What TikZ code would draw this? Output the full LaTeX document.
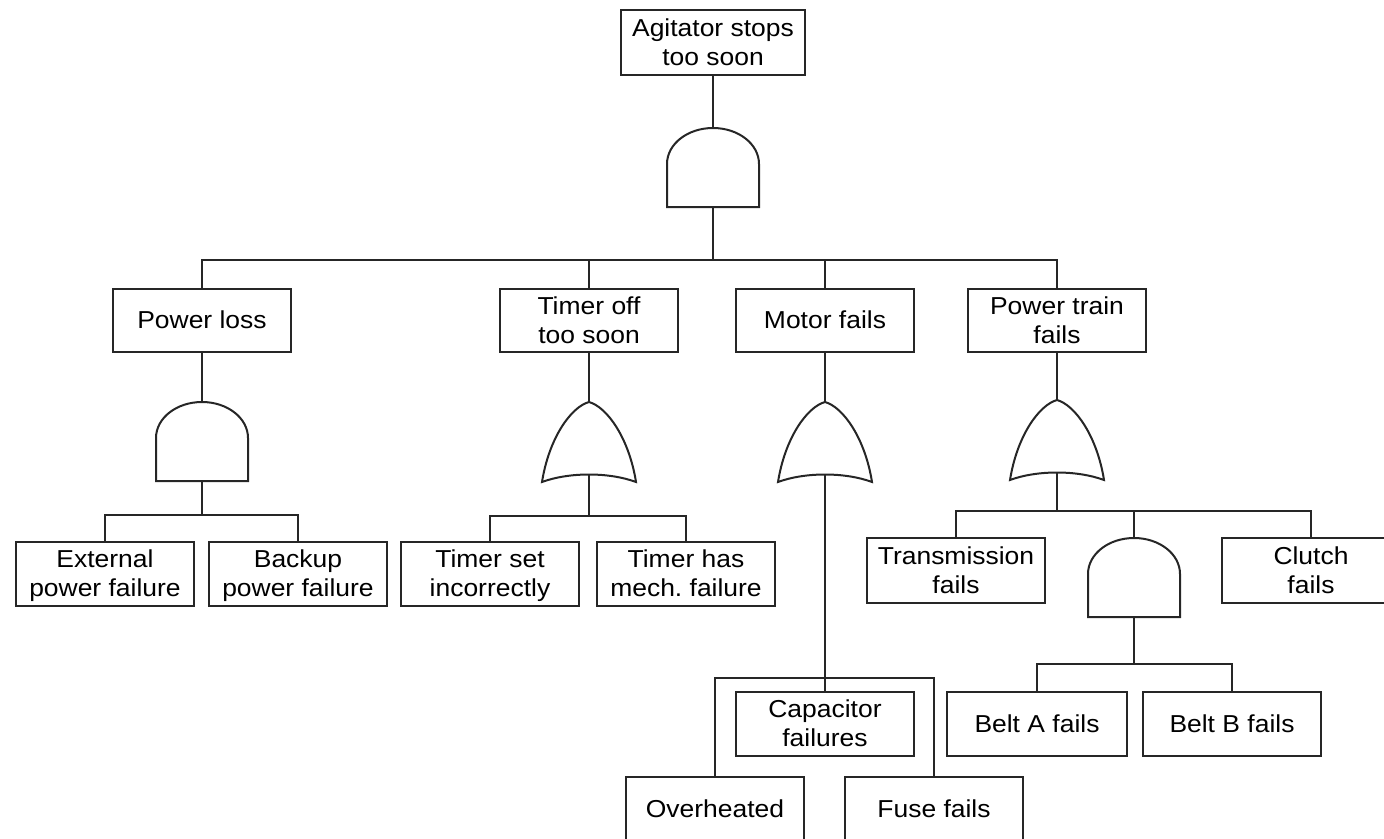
\documentclass[tikz,border=0pt]{standalone}
\usepackage{fontspec}
\setmainfont{Liberation Sans}[FakeStretch=1.08]
\usetikzlibrary{calc}

% fixed line height so that all labels sit the same way in their boxes
\newcommand{\labelstrut}{\rule[-6.5pt]{0pt}{29pt}}
% a two-line label with struts on both lines
\newcommand{\twolines}[2]{\labelstrut#1\\#2\labelstrut}

\tikzset{
  link/.style={line width=2pt, draw=black!85},
  gate/.style={line width=2pt, draw=black!85, fill=white},
  box/.style={draw=black!85, line width=2pt, fill=white,
    minimum width=178pt, minimum height=63pt, inner sep=0pt,
    align=center, font=\fontsize{24.5}{29}\selectfont},
  box1/.style={box, execute at begin node=\labelstrut},
  % AND gate: flat base, half-elliptic top; input at the top, output at the base
  andgate/.pic={
    \draw[gate] (-46,79) -- (-46,36)
      .. controls (-46,16) and (-25.4,0) .. (0,0)
      .. controls (25.4,0) and (46,16) .. (46,36) -- (46,79) -- cycle;
    \coordinate (-in) at (0,0);
    \coordinate (-out) at (0,79);
  },
  % OR gate: rounded arch with a concave base
  orgate/.pic={
    \draw[gate] (0,0) .. controls (18,5) and (40,36) .. (47,80)
      .. controls (20,70) and (-20,70) .. (-47,80)
      .. controls (-40,36) and (-18,5) .. (0,0) -- cycle;
    \coordinate (-in) at (0,0);
    \coordinate (-out) at (0,72.5);
  },
}

\begin{document}
\begin{tikzpicture}[x=1pt, y=-1pt]
\useasboundingbox (0,0) rectangle (1384,838);
\clip (0,0) rectangle (1384,838);

% top event
\node[box, minimum width=184pt, minimum height=65pt] (top) at (713,42.5) {\twolines{Agitator stops}{too soon}};
\pic (g0) at (713,128) {andgate};
\coordinate (b0) at (713,260);
\draw[link] (top.south) -- (g0-in);
\draw[link] (g0-out) -- (b0);

% second level
\node[box1] (pl) at (202,320.5) {Power loss};
\node[box] (to) at (589,320.5) {\twolines{Timer off}{too soon}};
\node[box1] (mf) at (825,320.5) {Motor fails};
\node[box] (pt) at (1057,320.5) {\twolines{Power train}{fails}};
\draw[link] (pl.north) |- (b0) -| (pt.north);
\draw[link] (to.north) -- (to.north |- b0);
\draw[link] (mf.north) -- (mf.north |- b0);

% power loss branch
\pic (g1) at (202,402) {andgate};
\coordinate (b1) at (202,515);
\draw[link] (pl.south) -- (g1-in);
\draw[link] (g1-out) -- (b1);
\node[box, minimum height=64pt] (ext) at (105,574) {\twolines{External}{power failure}};
\node[box, minimum height=64pt] (bak) at (298,574) {\twolines{Backup}{power failure}};
\draw[link] (ext.north) |- (b1) -| (bak.north);

% timer branch
\pic (g2) at (589,402) {orgate};
\coordinate (b2) at (589,516);
\draw[link] (to.south) -- (g2-in);
\draw[link] (g2-out) -- (b2);
\node[box, minimum height=64pt] (tsi) at (490,574) {\twolines{Timer set}{incorrectly}};
\node[box, minimum height=64pt] (thm) at (686,574) {\twolines{Timer has}{mech.\ failure}};
\draw[link] (tsi.north) |- (b2) -| (thm.north);

% motor branch
\pic (g3) at (825,402) {orgate};
\draw[link] (mf.south) -- (g3-in);
\node[box, minimum height=64pt] (cap) at (825,724) {\twolines{Capacitor}{failures}};
\node[box1, minimum height=64pt] (ovh) at (715,809) {Overheated};
\node[box1, minimum height=64pt] (fus) at (934,809) {Fuse fails};
\draw[link] (g3-out) -- (cap.north);
\coordinate (b3) at (825,678);
\draw[link] (ovh.north) |- (b3) -| (fus.north);

% power train branch
\pic (g4) at (1057,400) {orgate};
\coordinate (b4) at (1057,511);
\draw[link] (pt.south) -- (g4-in);
\draw[link] (g4-out) -- (b4);
\node[box, minimum height=65pt] (trn) at (956,570.5) {\twolines{Transmission}{fails}};
\node[box, minimum height=65pt] (clu) at (1311,570.5) {\twolines{Clutch}{fails}};
\pic (g5) at (1134,538) {andgate};
\coordinate (b5) at (1134,664);
\draw[link] (trn.north) |- (b4) -| (clu.north);
\draw[link] (g5-in) -- (g5-in |- b4);
\draw[link] (g5-out) -- (b5);
\node[box1, minimum width=180pt, minimum height=64pt] (bla) at (1037,724) {Belt A fails};
\node[box1, minimum height=64pt] (blb) at (1232,724) {Belt B fails};
\draw[link] (bla.north) |- (b5) -| (blb.north);
\end{tikzpicture}
\end{document}
